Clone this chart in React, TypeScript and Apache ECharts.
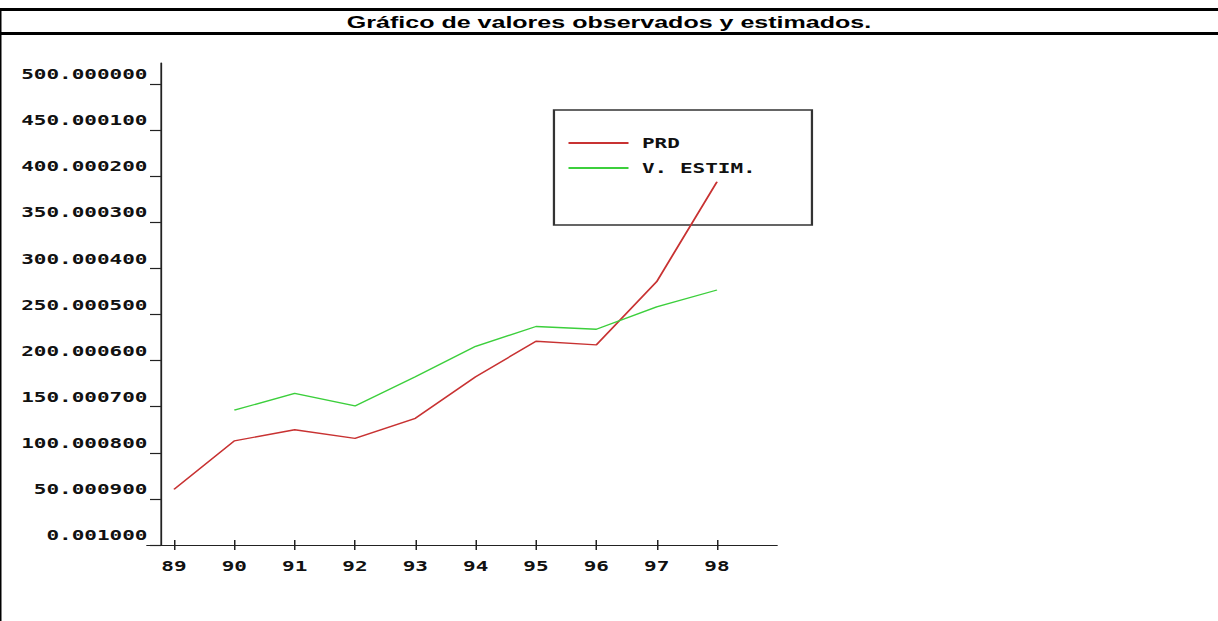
import React, { useEffect, useRef } from "react";
import * as echarts from "echarts";

// ---- data ----
const years = [89, 90, 91, 92, 93, 94, 95, 96, 97, 98];
const prdValues = [60.4, 113, 125, 115.7, 137.4, 182.5, 221, 217, 285.6, 394];
const estimValues = [null, 146.2, 164.5, 150.8, 182.5, 215.5, 237, 234, 258.3, 276.6];
const yTickValues = [0, 50, 100, 150, 200, 250, 300, 350, 400, 450, 500];
const yTickLabels = [
  "0.001000",
  "50.000900",
  "100.000800",
  "150.000700",
  "200.000600",
  "250.000500",
  "300.000400",
  "350.000300",
  "400.000200",
  "450.000100",
  "500.000000",
];
const titleText = "Gráfico de valores observados y estimados.";
const seriesNames = ["PRD", "V. ESTIM."];

// ---- layout (drawn in an unstretched 812px-wide space, then stretched 1.5x horizontally) ----
const STRETCH = 1.5;
const W = 1218 / STRETCH;
const H = 621;
const MONO = "'DejaVu Sans Mono', 'Liberation Mono', monospace";

export default function App() {
  const ref = useRef<HTMLDivElement>(null);

  useEffect(() => {
    if (!ref.current) return;
    const chart = echarts.init(ref.current, null, { renderer: "svg" });
    const xMin = 89 - 18 / 40.22;
    const xMax = 98 + 40 / 40.22;
    const labelStyle = { fontFamily: MONO, fontWeight: "bold" as const, fontSize: 14, color: "#111" };
    chart.setOption({
      animation: false,
      backgroundColor: "#fff",
      title: {
        text: titleText,
        left: "center",
        top: 14,
        padding: 0,
        textStyle: {
          fontFamily: "'Liberation Sans', Arial, sans-serif",
          fontWeight: "bold",
          fontSize: 16.7,
          color: "#000",
        },
      },
      grid: { left: 98, right: W - 518, top: 63, bottom: H - 545, containLabel: false },
      legend: {
        orient: "vertical",
        left: 378,
        top: 136,
        padding: 0,
        itemWidth: 40,
        itemHeight: 14,
        itemGap: 11,
        data: seriesNames,
        itemStyle: { opacity: 0 },
        textStyle: { ...labelStyle, padding: [0, 0, 0, 4] },
      },
      xAxis: [
        {
          // ticks + labels (shifted up so ticks cross the axis line)
          type: "value",
          position: "bottom",
          offset: -5,
          min: xMin,
          max: xMax,
          splitLine: { show: false },
          axisLine: { show: false },
          axisTick: { show: true, length: 10, customValues: years, lineStyle: { color: "#222", width: 1 } },
          axisLabel: {
            ...labelStyle,
            margin: 19,
            customValues: years,
            formatter: (v: number) => String(Math.round(v)),
          },
        },
        {
          // axis line
          type: "value",
          position: "bottom",
          min: xMin,
          max: xMax,
          splitLine: { show: false },
          axisLine: { show: true, lineStyle: { color: "#222", width: 1.2 } },
          axisTick: { show: false },
          axisLabel: { show: false },
        },
      ],
      yAxis: {
        type: "value",
        min: 0,
        max: (500 * 482) / 461,
        offset: -9.3,
        splitLine: { show: false },
        axisLine: { show: true, lineStyle: { color: "#222", width: 1.2 } },
        axisTick: { show: true, length: 7.3, customValues: yTickValues, lineStyle: { color: "#222", width: 1.2 } },
        axisLabel: {
          ...labelStyle,
          margin: 9,
          verticalAlign: "bottom",
          padding: [0, 0, 3, 0],
          customValues: yTickValues,
          formatter: (v: number) => yTickLabels[Math.round(v / 50)],
        },
      },
      series: [
        {
          name: seriesNames[0],
          type: "line",
          data: years.map((y, i) => [y, prdValues[i]]),
          symbol: "none",
          lineStyle: { color: "#C83232", width: 1.3 },
          itemStyle: { color: "#C83232" },
          z: 3,
        },
        {
          name: seriesNames[1],
          type: "line",
          data: years.map((y, i) => [y, estimValues[i]]),
          symbol: "none",
          connectNulls: false,
          lineStyle: { color: "#3CCF3C", width: 1.3 },
          itemStyle: { color: "#3CCF3C" },
          z: 3,
        },
      ],
      graphic: [
        { type: "rect", shape: { x: 0, y: 8, width: W, height: 3 }, style: { fill: "#000" } },
        { type: "rect", shape: { x: 0, y: 32, width: W, height: 3 }, style: { fill: "#000" } },
        { type: "rect", shape: { x: 0, y: 8, width: 1, height: H - 8 }, style: { fill: "#000" } },
        {
          type: "rect",
          shape: { x: 369.3, y: 110, width: 172, height: 115 },
          style: { fill: "none", stroke: "#333", lineWidth: 1.5 },
          z: 1,
        },
      ],
    });
    return () => chart.dispose();
  }, []);

  return (
    <div
      style={{
        position: "absolute",
        left: 0,
        top: 0,
        width: 1218,
        height: H,
        overflow: "hidden",
        background: "#fff",
      }}
    >
      <div
        ref={ref}
        style={{
          width: W,
          height: H,
          transform: `scaleX(${STRETCH})`,
          transformOrigin: "0 0",
        }}
      />
    </div>
  );
}
